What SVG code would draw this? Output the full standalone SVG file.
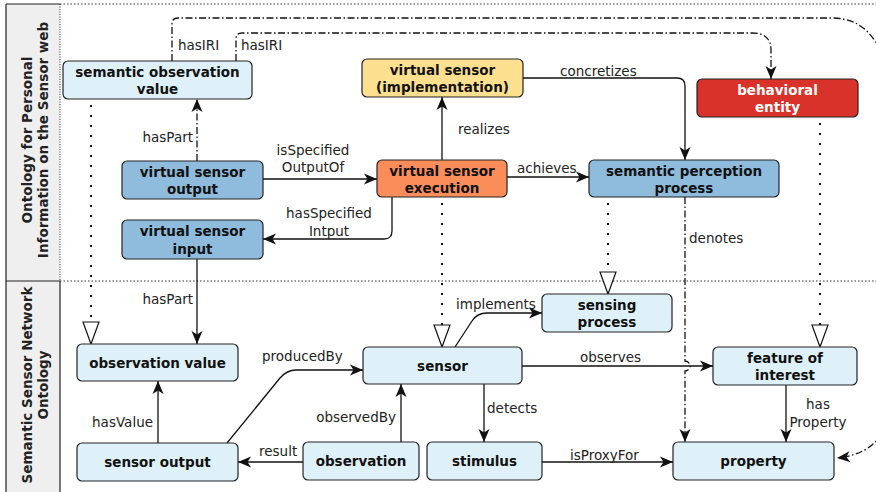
<svg xmlns="http://www.w3.org/2000/svg" width="876" height="492" viewBox="0 0 876 492">
<style>
.nt{font-family:"DejaVu Sans",Verdana,sans-serif;font-size:13.5px;font-weight:bold;fill:#111;text-anchor:middle}
.wt{fill:#fff}
.lb{font-family:"DejaVu Sans",Verdana,sans-serif;font-size:13.5px;fill:#222}
.hd{font-family:"DejaVu Sans",Verdana,sans-serif;font-size:13.5px;font-weight:bold;fill:#222;text-anchor:middle}
.box{stroke:#222;stroke-width:1.2}
.lt{fill:#dff1f8}.md{fill:#8fbcdc}.or{fill:#fb8d5b}.ye{fill:#fde08f}.rd{fill:#d9322a}
.e{fill:none;stroke:#111;stroke-width:1.3}
.dd{stroke-dasharray:7 2.5 1.5 2.5}
.dot{fill:none;stroke:#111;stroke-width:2;stroke-dasharray:2 8}
</style>
<defs>
<marker id="a" markerUnits="userSpaceOnUse" markerWidth="14" markerHeight="12" refX="13" refY="6" orient="auto" overflow="visible">
<path d="M0,0.5 L13,6 L0,11.5 L3.5,6 z" fill="#111"/>
</marker>
<marker id="t" markerUnits="userSpaceOnUse" markerWidth="24" markerHeight="18" refX="22" refY="8" orient="auto" overflow="visible">
<path d="M0,0 L22,8 L0,16 z" fill="#fff" stroke="#111" stroke-width="1.2"/>
</marker>
</defs>
<rect width="876" height="492" fill="#fff"/>
<g id="lanes">
<rect x="6" y="4" width="54" height="488" fill="#efefef"/>
<path d="M6,4 V492 M6,4 H60 M6,281 H60 M60,281 V492" stroke="#222" stroke-width="1.2" fill="none"/>
<path d="M60,4 V281" stroke="#222" stroke-width="1" stroke-dasharray="1 1.5" fill="none"/>
<path d="M60,4 H876 M60,281 H876" stroke="#333" stroke-width="1" stroke-dasharray="1.5 2" fill="none"/>
<text class="hd" transform="translate(32,140) rotate(-90)">Ontology for Personal</text>
<text class="hd" transform="translate(48,140) rotate(-90)">Information on the Sensor web</text>
<text class="hd" transform="translate(32,385) rotate(-90)">Semantic Sensor Network</text>
<text class="hd" transform="translate(48,385) rotate(-90)">Ontology</text>
</g>
<g id="connectors">
<path class="e dd" d="M172,61 V24 Q172,18 178,18 H832 C870,18 890,50 890,110 V400 C890,440 866,455 837,458" marker-end="url(#a)"/>
<path class="e dd" d="M236,61 V39 Q236,33 242,33 H752 Q771,33 771,50 V79" marker-end="url(#a)"/>
<path class="e dd" d="M197,161 V99" marker-end="url(#a)"/>
<path class="e" d="M263,179 H377" marker-end="url(#a)"/>
<path class="e" d="M392,197 V231 Q392,239 384,239 H263" marker-end="url(#a)"/>
<path class="e" d="M442,160 V97" marker-end="url(#a)"/>
<path class="e" d="M523,78 H677 Q685,78 685,86 V160" marker-end="url(#a)"/>
<path class="e" d="M507,177 H589" marker-end="url(#a)"/>
<path class="dot" d="M91,105 V344" marker-end="url(#t)"/>
<path class="dot" d="M442,203 V347" marker-end="url(#t)"/>
<path class="dot" d="M608,203 V294" marker-end="url(#t)"/>
<path class="dot" d="M820,123 V347" marker-end="url(#t)"/>
<path class="e dd" d="M685,197 V361 A5,5 0 0 1 685,371 V442" marker-end="url(#a)"/>
<path class="e" d="M455,347 L472,321 Q477,313 487,313 H542" marker-end="url(#a)"/>
<path class="e" d="M522,366 H713" marker-end="url(#a)"/>
<path class="e" d="M227,443 L280,378 Q287,370 296,370 H363" marker-end="url(#a)"/>
<path class="e" d="M158,443 V381" marker-end="url(#a)"/>
<path class="e" d="M197,259 V344" marker-end="url(#a)"/>
<path class="e" d="M303,462 H238" marker-end="url(#a)"/>
<path class="e" d="M401,442 V384" marker-end="url(#a)"/>
<path class="e" d="M484,384 V442" marker-end="url(#a)"/>
<path class="e" d="M542,462 H673" marker-end="url(#a)"/>
<path class="e" d="M786,385 V442" marker-end="url(#a)"/>
<text class="lb" x="178" y="50">hasIRI</text>
<text class="lb" x="241" y="50">hasIRI</text>
<text class="lb" x="193" y="142" text-anchor="end">hasPart</text>
<text class="lb" x="313" y="155" text-anchor="middle">isSpecified</text>
<text class="lb" x="313" y="172" text-anchor="middle">OutputOf</text>
<text class="lb" x="329" y="218" text-anchor="middle">hasSpecified</text>
<text class="lb" x="329" y="236" text-anchor="middle">Intput</text>
<text class="lb" x="458" y="134">realizes</text>
<text class="lb" x="560" y="76">concretizes</text>
<text class="lb" x="517" y="173">achieves</text>
<text class="lb" x="689" y="243">denotes</text>
<text class="lb" x="456" y="309">implements</text>
<text class="lb" x="580" y="362">observes</text>
<text class="lb" x="262" y="361">producedBy</text>
<text class="lb" x="153" y="427" text-anchor="end">hasValue</text>
<text class="lb" x="193" y="304" text-anchor="end">hasPart</text>
<text class="lb" x="259" y="456">result</text>
<text class="lb" x="396" y="422" text-anchor="end">observedBy</text>
<text class="lb" x="487" y="413">detects</text>
<text class="lb" x="570" y="460">isProxyFor</text>
<text class="lb" x="818" y="409" text-anchor="middle">has</text>
<text class="lb" x="818" y="427" text-anchor="middle">Property</text>
</g>
<g id="semantic_observation_value"><rect class="box lt" x="63" y="61" width="189" height="38" rx="5"/><text class="nt" x="157.5" y="77">semantic observation</text><text class="nt" x="157.5" y="94">value</text></g>
<g id="virtual_sensor_impl"><rect class="box ye" x="362" y="59" width="161" height="38" rx="5"/><text class="nt" x="442.5" y="75">virtual sensor</text><text class="nt" x="442.5" y="92">(implementation)</text></g>
<g id="behavioral_entity"><rect class="box rd" x="697" y="79" width="161" height="38" rx="5"/><text class="nt wt" x="777.5" y="95">behavioral</text><text class="nt wt" x="777.5" y="112">entity</text></g>
<g id="virtual_sensor_output"><rect class="box md" x="122" y="161" width="141" height="38" rx="5"/><text class="nt" x="192.5" y="177">virtual sensor</text><text class="nt" x="192.5" y="194">output</text></g>
<g id="virtual_sensor_execution"><rect class="box or" x="377" y="160" width="130" height="37" rx="5"/><text class="nt" x="442" y="176">virtual sensor</text><text class="nt" x="442" y="193">execution</text></g>
<g id="semantic_perception_process"><rect class="box md" x="589" y="160" width="190" height="37" rx="5"/><text class="nt" x="684" y="176">semantic perception</text><text class="nt" x="684" y="193">process</text></g>
<g id="virtual_sensor_input"><rect class="box md" x="122" y="220" width="141" height="39" rx="5"/><text class="nt" x="192.5" y="236">virtual sensor</text><text class="nt" x="192.5" y="254">input</text></g>
<g id="sensing_process"><rect class="box lt" x="542" y="294" width="130" height="38" rx="5"/><text class="nt" x="607" y="310">sensing</text><text class="nt" x="607" y="327">process</text></g>
<g id="observation_value"><rect class="box lt" x="77" y="344" width="161" height="37" rx="5"/><text class="nt" x="157.5" y="367.5">observation value</text></g>
<g id="sensor"><rect class="box lt" x="363" y="347" width="159" height="37" rx="5"/><text class="nt" x="442.5" y="370.5">sensor</text></g>
<g id="feature_of_interest"><rect class="box lt" x="713" y="347" width="144" height="38" rx="5"/><text class="nt" x="785" y="363">feature of</text><text class="nt" x="785" y="380">interest</text></g>
<g id="sensor_output"><rect class="box lt" x="77" y="443" width="161" height="38" rx="5"/><text class="nt" x="157.5" y="467">sensor output</text></g>
<g id="observation"><rect class="box lt" x="303" y="442" width="116" height="38" rx="5"/><text class="nt" x="361" y="466">observation</text></g>
<g id="stimulus"><rect class="box lt" x="427" y="442" width="115" height="38" rx="5"/><text class="nt" x="484.5" y="466">stimulus</text></g>
<g id="property"><rect class="box lt" x="673" y="442" width="161" height="38" rx="5"/><text class="nt" x="753.5" y="466">property</text></g>
</svg>
